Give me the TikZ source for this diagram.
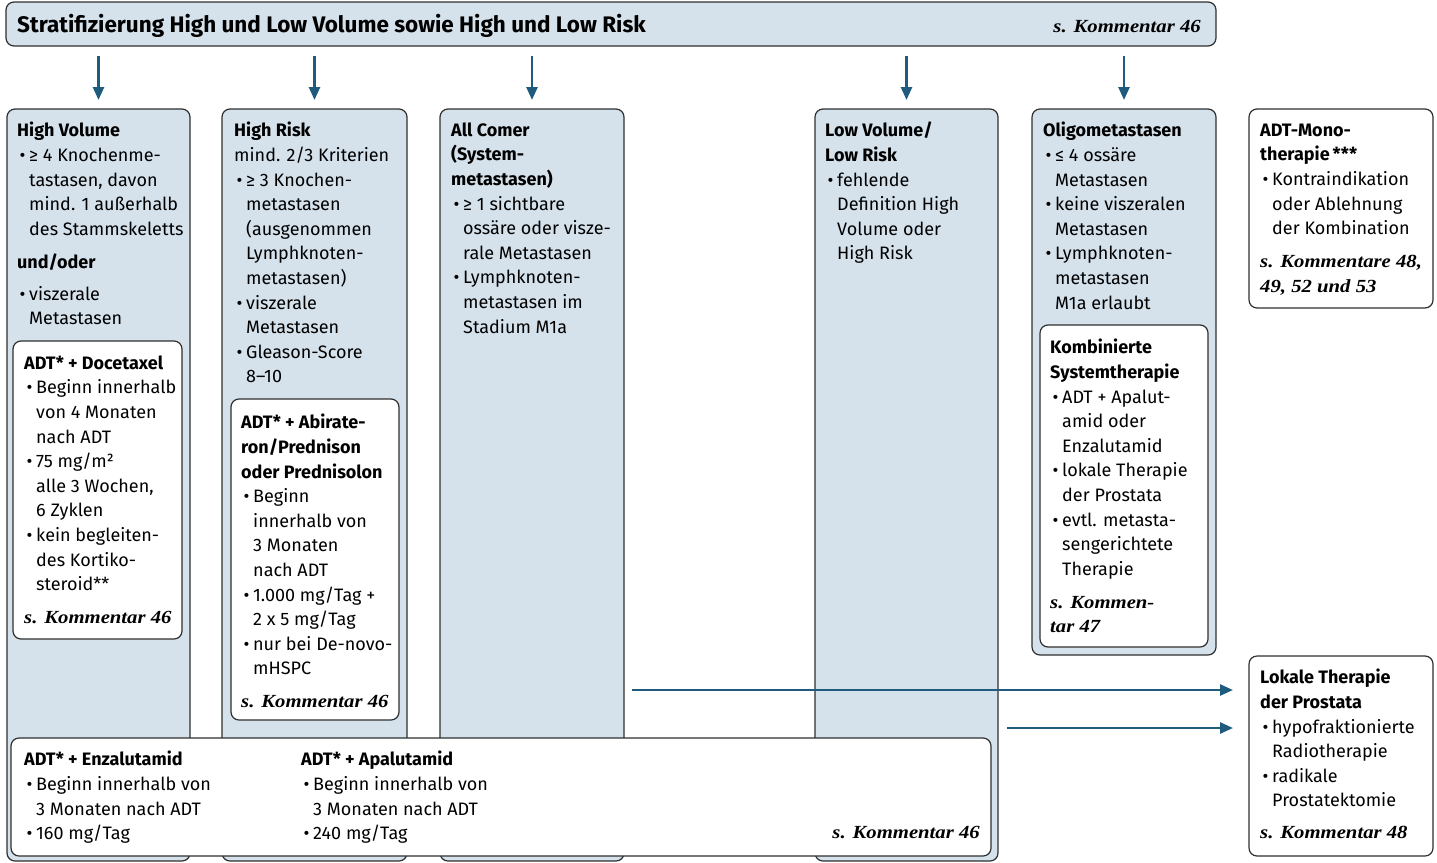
\documentclass[tikz,border=0pt]{standalone}
\usepackage{fontspec}
\setsansfont{Fira Sans}
\newfontfamily\komfam{Liberation Serif}[FakeStretch=1.12]
\usetikzlibrary{arrows.meta}
\definecolor{lb}{HTML}{D5E2EC}
\definecolor{ar}{HTML}{1E5B7D}
\definecolor{bd}{HTML}{2F2F2F}
\newcommand{\bodyf}{\sffamily\fontsize{18bp}{24.6bp}\selectfont}
\newcommand{\titlef}{\sffamily\bfseries\fontsize{22.5bp}{26bp}\selectfont}
\newcommand{\bl}{\makebox[12bp][l]{\hspace{2.5bp}•}}
\newcommand{\ind}{\hspace*{12bp}}
\newcommand{\st}{\rule{0pt}{14bp}}
\newcommand{\kom}[1]{{\komfam\bfseries\itshape\fontsize{18.5bp}{24.6bp}\selectfont #1}}
\begin{document}
\begin{tikzpicture}[x=1bp,y=-1bp,
  colbox/.style={draw=bd, line width=1.2bp, rounded corners=8bp, fill=lb, anchor=north west, inner sep=0pt, outer sep=0pt},
  whitebox/.style={draw=bd, line width=1.2bp, rounded corners=8bp, fill=white, anchor=north west, inner sep=0pt, outer sep=0pt},
  txt/.style={anchor=north west, inner sep=0pt, align=left, font=\bodyf},
  arr/.style={draw=ar, line width=2.6bp, -{Triangle[length=13bp,width=11bp]}},
]
\useasboundingbox (0,0) rectangle (1437,862);
% boxes
\node[colbox, minimum width=1210bp, minimum height=44bp] (banner) at (6,2) {};
\node[colbox, minimum width=183bp, minimum height=752bp] (hv) at (7,109) {};
\node[colbox, minimum width=185bp, minimum height=752bp] (hr) at (222,109) {};
\node[colbox, minimum width=184bp, minimum height=752bp] (ac) at (440,109) {};
\node[colbox, minimum width=183bp, minimum height=752bp] (lv) at (815,109) {};
\node[colbox, minimum width=184bp, minimum height=546bp] (om) at (1032,109) {};
\node[whitebox, minimum width=184bp, minimum height=199bp] (mono) at (1249,109) {};
\node[whitebox, minimum width=184bp, minimum height=200bp] (lt) at (1249,656) {};
\node[whitebox, minimum width=169bp, minimum height=298bp] (doc) at (13,341) {};
\node[whitebox, minimum width=168bp, minimum height=321bp] (abi) at (231,399) {};
\node[whitebox, minimum width=168bp, minimum height=322bp] (komb) at (1040,325) {};
\node[whitebox, minimum width=980bp, minimum height=118bp] (bot) at (11,738) {};

% banner text
\node[anchor=base west, inner sep=0pt, font=\titlef] (title) at (17,32) {Stratifizierung High und Low Volume sowie High und Low Risk};
\node[anchor=base east, inner sep=0pt] (titlek) at (1201,32) {\kom{s. Kommentar 46}};

% column texts
\node[txt] (hvt) at (17,122) {\st\textbf{High Volume}\\
\bl{}≥ 4 Knochenme-\\
\ind{}tastasen, davon\\
\ind{}mind. 1 außerhalb\\
\ind{}des Stammskeletts\\[8.4bp]
\textbf{und/oder}\\[7.4bp]
\bl{}viszerale\\
\ind{}Metastasen};

\node[txt] (doct) at (24,355) {\st\textbf{ADT* + Docetaxel}\\
\bl{}Beginn innerhalb\\
\ind{}von 4 Monaten\\
\ind{}nach ADT\\
\bl{}75 mg/m²\\
\ind{}alle 3 Wochen,\\
\ind{}6 Zyklen\\
\bl{}kein begleiten-\\
\ind{}des Kortiko-\\
\ind{}steroid**\\[8.4bp]
\kom{s. Kommentar 46}};

\node[txt] (hrt) at (234,122) {\st\textbf{High Risk}\\
mind. 2/3 Kriterien\\
\bl{}≥ 3 Knochen-\\
\ind{}metastasen\\
\ind{}(ausgenommen\\
\ind{}Lymphknoten-\\
\ind{}metastasen)\\
\bl{}viszerale\\
\ind{}Metastasen\\
\bl{}Gleason-Score\\
\ind{}8–10};

\node[txt] (abit) at (241,414) {\st\textbf{ADT* + Abirate-}\\
\textbf{ron/Prednison}\\
\textbf{oder Prednisolon}\\
\bl{}Beginn\\
\ind{}innerhalb von\\
\ind{}3 Monaten\\
\ind{}nach ADT\\
\bl{}1.000 mg/Tag +\\
\ind{}2 x 5 mg/Tag\\
\bl{}nur bei De-novo-\\
\ind{}mHSPC\\[8.4bp]
\kom{s. Kommentar 46}};

\node[txt] (act) at (451,122) {\st\textbf{All Comer}\\
\textbf{(System-}\\
\textbf{metastasen)}\\
\bl{}≥ 1 sichtbare\\
\ind{}ossäre oder visze-\\
\ind{}rale Metastasen\\
\bl{}Lymphknoten-\\
\ind{}metastasen im\\
\ind{}Stadium M1a};

\node[txt] (lvt) at (825,122) {\st\textbf{Low Volume/}\\
\textbf{Low Risk}\\
\bl{}fehlende\\
\ind{}Definition High\\
\ind{}Volume oder\\
\ind{}High Risk};

\node[txt] (omt) at (1043,122) {\st\textbf{Oligometastasen}\\
\bl{}≤ 4 ossäre\\
\ind{}Metastasen\\
\bl{}keine viszeralen\\
\ind{}Metastasen\\
\bl{}Lymphknoten-\\
\ind{}metastasen\\
\ind{}M1a erlaubt};

\node[txt] (kombt) at (1050,339) {\st\textbf{Kombinierte}\\
\textbf{Systemtherapie}\\
\bl{}ADT + Apalut-\\
\ind{}amid oder\\
\ind{}Enzalutamid\\
\bl{}lokale Therapie\\
\ind{}der Prostata\\
\bl{}evtl. metasta-\\
\ind{}sengerichtete\\
\ind{}Therapie\\[8.4bp]
\kom{s. Kommen-}\\
\kom{tar 47}};

\node[txt] (monot) at (1260,122) {\st\textbf{ADT-Mono-}\\
\textbf{therapie\,***}\\
\bl{}Kontraindikation\\
\ind{}oder Ablehnung\\
\ind{}der Kombination\\[8.4bp]
\kom{s. Kommentare 48,}\\
\kom{49, 52 und 53}};

\node[txt] (ltt) at (1260,669) {\st\textbf{Lokale Therapie}\\
\textbf{der Prostata}\\
\bl{}hypofraktionierte\\
\ind{}Radiotherapie\\
\bl{}radikale\\
\ind{}Prostatektomie\\[7.4bp]
\kom{s. Kommentar 48}};

\node[txt] (enz) at (24,751) {\st\textbf{ADT* + Enzalutamid}\\
\bl{}Beginn innerhalb von\\
\ind{}3 Monaten nach ADT\\
\bl{}160 mg/Tag};

\node[txt] (apa) at (301,751) {\st\textbf{ADT* + Apalutamid}\\
\bl{}Beginn innerhalb von\\
\ind{}3 Monaten nach ADT\\
\bl{}240 mg/Tag};

\node[anchor=base east, inner sep=0pt] (botk) at (980,838) {\kom{s. Kommentar 46}};

% arrows
\foreach \n in {hv,hr,ac,lv,om}
  \draw[arr, shorten <=10bp, shorten >=9bp] (banner.south -| \n.north) -- (\n.north);
\coordinate (s1) at (632,690);
\coordinate (s2) at (1007,728);
\draw[arr, shorten >=16bp] (s1) -- (s1 -| lt.west);
\draw[arr, shorten >=16bp] (s2) -- (s2 -| lt.west);
\end{tikzpicture}
\end{document}
